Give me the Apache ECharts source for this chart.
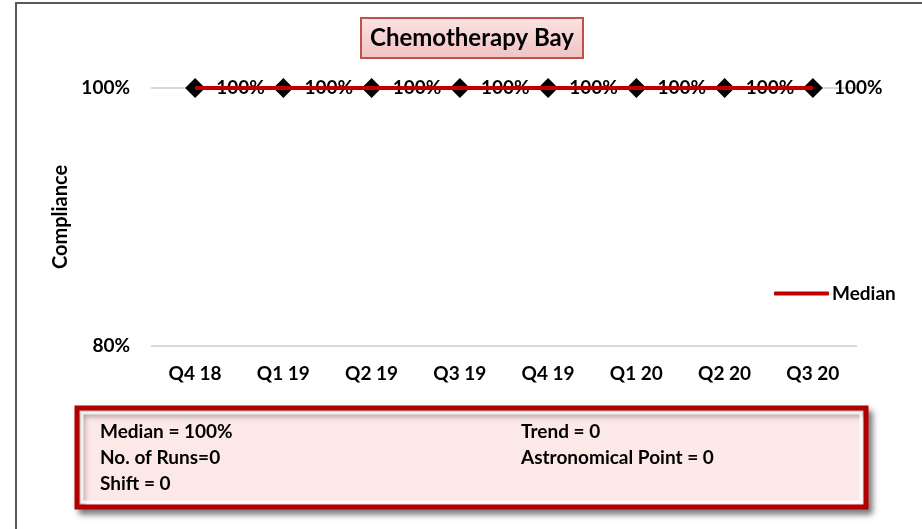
<!DOCTYPE html>
<html>
<head>
<meta charset="utf-8">
<script src="https://cdn.jsdelivr.net/npm/echarts@6/dist/echarts.min.js"></script>
<style>
  html, body { margin: 0; padding: 0; background: #fff; }
  #chart { width: 922px; height: 529px; }
</style>
</head>
<body>
<div id="chart"></div>
<script>
// data
const quarters = ['Q4 18', 'Q1 19', 'Q2 19', 'Q3 19', 'Q4 19', 'Q1 20', 'Q2 20', 'Q3 20']
const compliance = [100, 100, 100, 100, 100, 100, 100, 100]
const median = [100, 100, 100, 100, 100, 100, 100, 100]
const yTicks = [80, 100]
const statsLeft = ['Median = 100%', 'No. of Runs=0', 'Shift = 0']
const statsRight = ['Trend = 0', 'Astronomical Point = 0']

const FONT = 'Lato'
const FS = 19
const chart = echarts.init(document.getElementById('chart'))

const statText = (lines, x) => lines.map((t, i) => ({
  type: 'text',
  left: x,
  top: 422 + i * 26,
  z: 20,
  style: { text: t, fontSize: FS, fontWeight: 'bold', fontFamily: FONT, fill: '#000' }
}))

const option = {
  animation: false,
  title: {
    text: 'Chemotherapy Bay',
    left: 361,
    top: 18,
    padding: [8, 9, 8, 9],
    borderColor: '#c0504d',
    borderWidth: 2,
    backgroundColor: new echarts.graphic.LinearGradient(0, 0, 0, 1, [
      { offset: 0, color: '#fbe3e3' },
      { offset: 1, color: '#f0c2c2' }
    ]),
    textStyle: { fontSize: 24, fontWeight: 'bold', fontFamily: FONT, color: '#000' }
  },
  legend: {
    data: ['Median'],
    left: 774,
    top: 284,
    padding: 0,
    itemWidth: 55,
    itemHeight: 4,
    itemGap: 4,
    icon: 'roundRect',
    textStyle: { fontSize: FS, fontWeight: 'bold', fontFamily: FONT, color: '#000', padding: [0, 0, 0, -2] }
  },
  grid: { left: 151, right: 65, top: 88, bottom: 183, containLabel: false },
  xAxis: {
    type: 'category',
    data: quarters,
    boundaryGap: true,
    axisLine: { show: false },
    axisTick: { show: false },
    axisLabel: { margin: 18, fontSize: FS, fontWeight: 'bold', fontFamily: FONT, color: '#000', interval: 0 }
  },
  yAxis: {
    type: 'value',
    min: yTicks[0],
    max: yTicks[yTicks.length - 1],
    interval: yTicks[1] - yTicks[0],
    name: 'Compliance',
    nameLocation: 'middle',
    nameGap: 78,
    nameRotate: 90,
    nameTextStyle: { fontSize: 20, fontWeight: 'bold', fontFamily: FONT, color: '#000' },
    axisLine: { show: false },
    axisTick: { show: false },
    splitLine: { lineStyle: { color: '#d9d9d9', width: 2 } },
    axisLabel: { margin: 21, fontSize: FS, fontWeight: 'bold', fontFamily: FONT, color: '#000', formatter: '{value}%' }
  },
  series: [
    {
      name: 'Compliance',
      type: 'line',
      data: compliance,
      z: 2,
      symbol: 'diamond',
      symbolSize: [20, 20],
      itemStyle: { color: '#000' },
      lineStyle: { color: '#000', width: 1 },
      label: {
        show: true,
        position: 'right',
        distance: 11,
        formatter: '{c}%',
        fontSize: FS,
        fontWeight: 'bold',
        fontFamily: FONT,
        color: '#000'
      }
    },
    {
      name: 'Median',
      type: 'line',
      data: median,
      z: 10,
      symbol: 'none',
      lineStyle: { color: '#c00000', width: 4 },
      itemStyle: { color: '#c00000' }
    }
  ],
  graphic: [
    {
      type: 'rect',
      shape: { x: 16, y: 3, width: 920, height: 540 },
      style: { fill: 'none', stroke: '#595959', lineWidth: 2 },
      silent: true,
      z: 0
    },
    {
      type: 'rect',
      shape: { x: 77, y: 408, width: 789, height: 99 },
      style: {
        fill: '#fde8e8',
        stroke: '#b00000',
        lineWidth: 5,
        shadowBlur: 6,
        shadowOffsetX: 4,
        shadowOffsetY: 5,
        shadowColor: 'rgba(0,0,0,0.45)'
      },
      z: 15
    },
    {
      type: 'rect',
      shape: { x: 82, y: 413, width: 779, height: 89 },
      style: { fill: 'none', stroke: 'rgba(255,255,255,0.8)', lineWidth: 3 },
      z: 16
    },
    ...statText(statsLeft, 100),
    ...statText(statsRight, 521)
  ]
}

chart.setOption(option)
</script>
</body>
</html>
